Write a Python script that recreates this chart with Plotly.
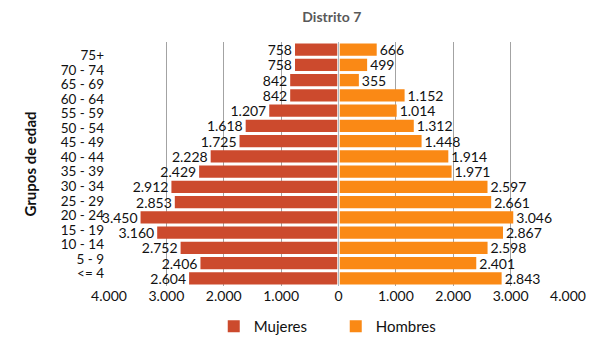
import plotly.graph_objects as go

# Data (bottom to top)
age_groups = ["<= 4", "5 - 9", "10 - 14", "15 - 19", "20 - 24", "25 - 29", "30 - 34",
              "35 - 39", "40 - 44", "45 - 49", "50 - 54", "55 - 59", "60 - 64",
              "65 - 69", "70 - 74", "75+"]
mujeres = [2604, 2406, 2752, 3160, 3450, 2853, 2912, 2429, 2228, 1725, 1618, 1207,
           842, 842, 758, 758]
hombres = [2843, 2401, 2598, 2867, 3046, 2661, 2597, 1971, 1914, 1448, 1312, 1014,
           1152, 355, 499, 666]
x_ticks = [-4000, -3000, -2000, -1000, 0, 1000, 2000, 3000, 4000]

def fmt(v):
    return f"{abs(v):,}".replace(",", ".")

pos = list(range(len(age_groups)))
FONT = "Lato, 'Open Sans', sans-serif"
RED = "#cc4a2d"
ORANGE = "#fa8915"

fig = go.Figure()
fig.add_trace(go.Bar(
    y=pos, x=[-v for v in mujeres], orientation="h", name="Mujeres",
    marker=dict(color=RED, line=dict(width=0)),
    text=[fmt(v) for v in mujeres], textposition="outside", constraintext="none",
    textfont=dict(size=14, color="#111111", family=FONT), cliponaxis=False,
))
fig.add_trace(go.Bar(
    y=pos, x=hombres, orientation="h", name="Hombres",
    marker=dict(color=ORANGE, line=dict(width=0)),
    text=[fmt(v) for v in hombres], textposition="outside", constraintext="none",
    textfont=dict(size=14, color="#111111", family=FONT), cliponaxis=False,
))

# category labels in the original sit on a slightly different spacing than the bars
label_pos = [0.317 + 0.954 * i for i in range(len(age_groups))]

fig.update_layout(
    width=600, height=347,
    margin=dict(l=109.3, r=31.7, t=41.7, b=60.5, autoexpand=False),
    barmode="relative", bargap=0.19,
    paper_bgcolor="white", plot_bgcolor="white",
    font=dict(family=FONT, size=14, color="#111111"),
    title=dict(text="<b>Distrito 7</b>", x=0.553, xref="container", xanchor="center",
               y=1 - 16.7 / 347, yref="container", yanchor="middle",
               font=dict(size=14, color="#595959", family=FONT)),
    xaxis=dict(range=[-4000, 4000], tickmode="array", tickvals=x_ticks,
               ticktext=[fmt(v) for v in x_ticks], showgrid=True,
               gridcolor="#a3a3a3", gridwidth=1, zeroline=False, showline=False,
               ticks="", tickfont=dict(size=14, color="#111111")),
    yaxis=dict(range=[-0.5, len(age_groups) - 0.5], tickmode="array",
               tickvals=label_pos, ticktext=age_groups, showgrid=False,
               zeroline=False, showline=False, ticks="", ticklabelstandoff=4,
               tickfont=dict(size=13.5, color="#111111"),
               title=dict(text="<b>Grupos de edad</b>", standoff=20,
                          font=dict(size=15, color="#111111"))),
    legend=dict(orientation="h", x=0.494, xanchor="center",
                y=1 - 310 / 347, yref="container", yanchor="top",
                font=dict(size=15, color="#111111"), traceorder="normal",
                entrywidth=77, entrywidthmode="pixels"),
    showlegend=True,
)
fig.add_shape(type="line", xref="x", yref="paper", x0=0, x1=0, y0=0, y1=1,
              line=dict(color="white", width=2.5), layer="above")
fig.add_shape(type="line", xref="x", yref="paper", x0=0, x1=0, y0=0, y1=1,
              line=dict(color="#a9bac6", width=1), layer="above")

fig.write_html("out.html")
